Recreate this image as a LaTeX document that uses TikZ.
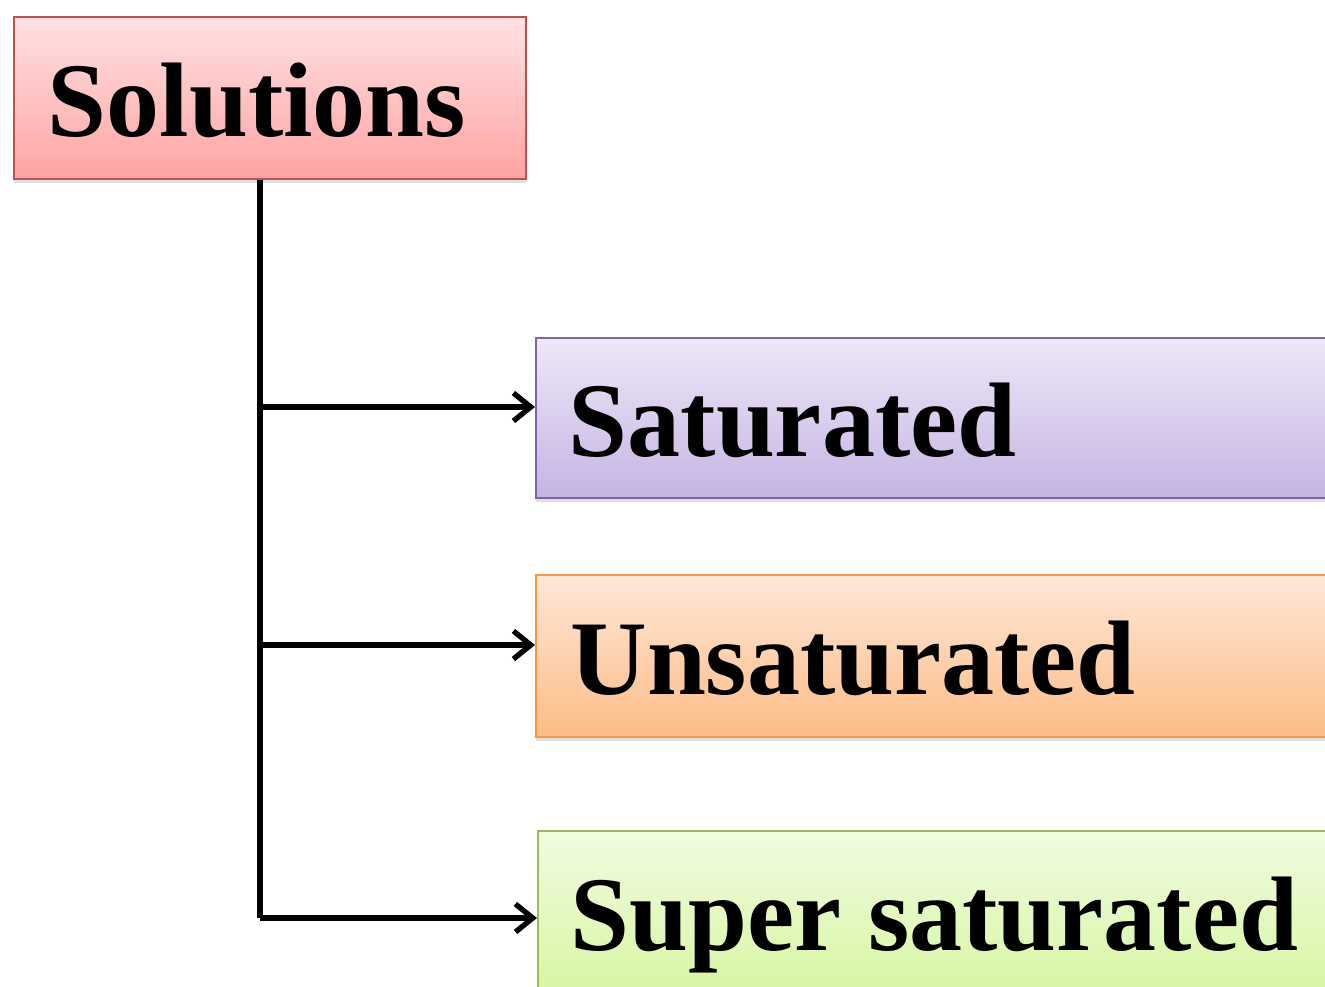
\documentclass[tikz,border=0pt]{standalone}
\usepackage{fontspec}
\setmainfont{Liberation Serif}
\usetikzlibrary{arrows.meta,shadows}
\definecolor{solline}{RGB}{192,80,77}
\definecolor{soltop}{RGB}{255,226,226}
\definecolor{solbot}{RGB}{255,163,163}
\definecolor{satline}{RGB}{128,100,162}
\definecolor{sattop}{RGB}{238,232,247}
\definecolor{satbot}{RGB}{198,180,228}
\definecolor{unsline}{RGB}{247,150,70}
\definecolor{unstop}{RGB}{255,231,215}
\definecolor{unsbot}{RGB}{252,188,135}
\definecolor{supline}{RGB}{155,187,89}
\definecolor{suptop}{RGB}{241,251,226}
\definecolor{supbot}{RGB}{215,246,162}
\tikzset{
  box/.style={draw, line width=1.2pt, anchor=north west, align=flush left,
    inner ysep=0pt, text height=58.5pt, text depth=0pt,
    font=\bfseries\fontsize{79.5}{80}\selectfont,
    drop shadow={shadow xshift=0.5pt, shadow yshift=-3pt, opacity=0.25}},
  spine/.style={line width=4pt},
  branch/.style={line width=4pt, -{Straight Barb[length=13pt,width=21pt]}}
}
\begin{document}
\begin{tikzpicture}[x=0.75pt,y=-0.75pt]
  \useasboundingbox (0,0) rectangle (1325,986);
  \clip (0,0) rectangle (1325,986);
  \node[box, draw=solline, top color=soltop, bottom color=solbot,
    minimum height=121.5pt, inner xsep=25.5pt, text width=333pt] (sol) at (13,16) {Solutions};
  \node[box, draw=satline, top color=sattop, bottom color=satbot,
    minimum height=120pt, inner xsep=24.75pt, text width=600pt] (sat) at (535,337) {Saturated};
  \node[box, draw=unsline, top color=unstop, bottom color=unsbot,
    minimum height=121.5pt, inner xsep=26pt, text width=600pt] (uns) at (535,574) {Unsaturated};
  \node[box, draw=supline, top color=suptop, bottom color=supbot,
    minimum height=121.5pt, inner xsep=24.75pt, text width=600pt] (sup) at (537,830) {Super saturated};
  \coordinate (j1) at (260,407);
  \coordinate (j2) at (260,645);
  \coordinate (j3) at (260,918);
  \draw[spine] (sol.south -| j1) -- (j3);
  \draw[branch] (j1) -- (j1 -| sat.west);
  \draw[branch] (j2) -- (j2 -| uns.west);
  \draw[branch] (j3) -- (j3 -| sup.west);
\end{tikzpicture}
\end{document}
